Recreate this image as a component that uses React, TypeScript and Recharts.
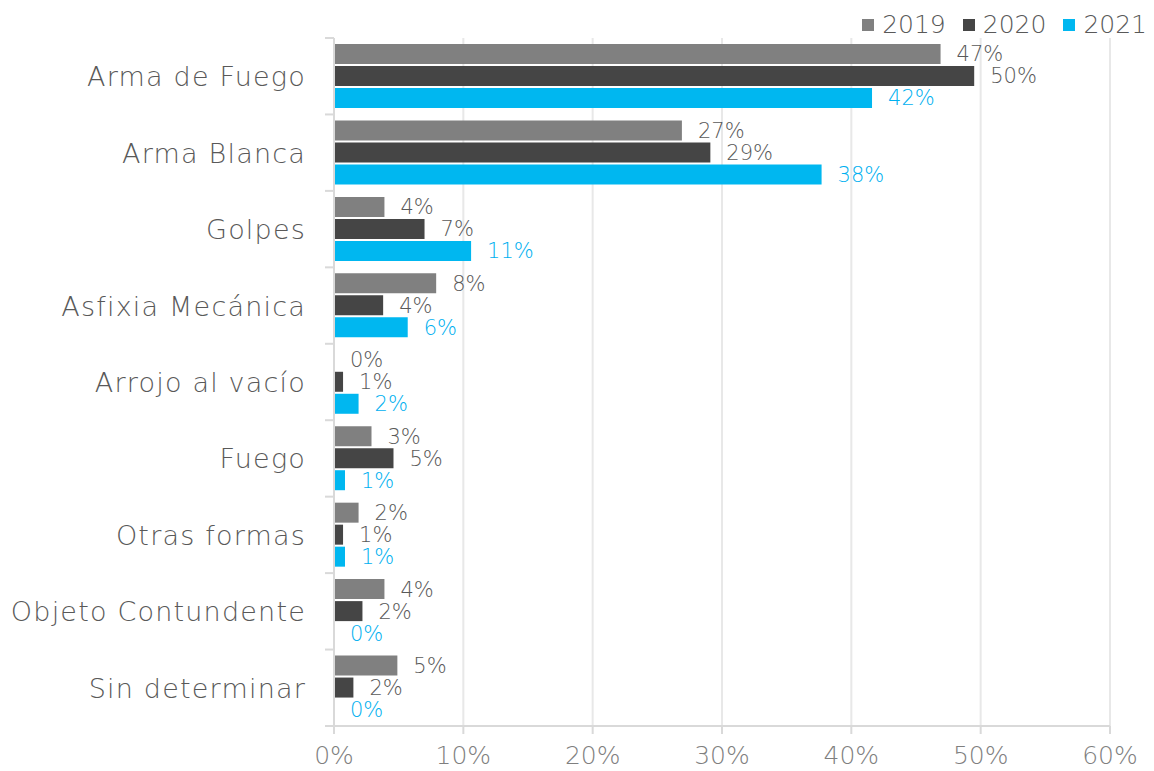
import { BarChart, Bar, XAxis, YAxis, CartesianGrid, LabelList } from "recharts";

const categories = [
  "Arma de Fuego",
  "Arma Blanca",
  "Golpes",
  "Asfixia Mecánica",
  "Arrojo al vacío",
  "Fuego",
  "Otras formas",
  "Objeto Contundente",
  "Sin determinar",
];

const y2019 = [46.9, 26.9, 3.9, 7.9, 0, 2.9, 1.9, 3.9, 4.9];
const y2020 = [49.5, 29.1, 7.0, 3.8, 0.7, 4.6, 0.7, 2.2, 1.5];
const y2021 = [41.6, 37.7, 10.6, 5.7, 1.9, 0.85, 0.85, 0, 0];

const xTicks = [0, 10, 20, 30, 40, 50, 60];

const series = [
  { key: "v2019", name: "2019", color: "#808080", labelColor: "#595959" },
  { key: "v2020", name: "2020", color: "#454545", labelColor: "#595959" },
  { key: "v2021", name: "2021", color: "#00B7F0", labelColor: "#00B0F0" },
];

const data = categories.map((c, i) => ({
  name: c,
  v2019: y2019[i],
  v2020: y2020[i],
  v2021: y2021[i],
}));

const FONT = "'DejaVu Sans', sans-serif";
const AXIS_X = 334;
const TOP = 38;
const BOTTOM = 726;
const band = (BOTTOM - TOP) / categories.length;

function CategoryTick(props: any) {
  const { x, y, payload, index } = props;
  return (
    <g>
      <line x1={AXIS_X - 9} x2={AXIS_X} y1={y - band / 2} y2={y - band / 2} stroke="#d9d9d9" strokeWidth={2} />
      {index === categories.length - 1 && (
        <line x1={AXIS_X - 9} x2={AXIS_X} y1={y + band / 2} y2={y + band / 2} stroke="#d9d9d9" strokeWidth={2} />
      )}
      <text
        x={x}
        y={y}
        dy={10}
        textAnchor="end"
        fill="#595959"
        fontSize={27}
        letterSpacing={1.2}
        fontFamily={FONT}
        fontWeight={200}
      >
        {payload.value}
      </text>
    </g>
  );
}

export default function App() {
  return (
    <div style={{ position: "absolute", left: 0, top: 0, width: 1154, height: 771, background: "#fff" }}>
      <div
        style={{
          position: "absolute",
          right: 7,
          top: 11,
          display: "flex",
          alignItems: "center",
          fontFamily: FONT,
          fontWeight: 200,
          fontSize: 25,
          lineHeight: "28px",
          color: "#595959",
          zIndex: 2,
        }}
      >
        {series.map((s) => (
          <span key={s.key} style={{ display: "flex", alignItems: "center", marginLeft: 17 }}>
            <span style={{ width: 12, height: 12, background: s.color, display: "inline-block", marginRight: 8 }} />
            {s.name}
          </span>
        ))}
      </div>
      <BarChart
        width={1154}
        height={771}
        data={data}
        layout="vertical"
        margin={{ top: TOP, right: 44, bottom: 0, left: 0 }}
        barSize={20}
        barGap={2}
      >
        <CartesianGrid horizontal={false} stroke="#e8e8e8" strokeWidth={2} />
        <XAxis
          type="number"
          domain={[0, 60]}
          ticks={xTicks}
          tickFormatter={(v: number) => `${v}%`}
          axisLine={{ stroke: "#d9d9d9", strokeWidth: 2 }}
          tickLine={{ stroke: "#d9d9d9", strokeWidth: 2 }}
          tickSize={8}
          tickMargin={12}
          tick={{ fill: "#7f7f7f", fontSize: 25, fontFamily: FONT, fontWeight: 200 }}
          height={771 - BOTTOM}
        />
        <YAxis
          type="category"
          dataKey="name"
          width={AXIS_X}
          axisLine={{ stroke: "#d9d9d9", strokeWidth: 2 }}
          tickLine={false}
          tickSize={9}
          tickMargin={19}
          tick={<CategoryTick />}
          interval={0}
        />
        {series.map((s) => (
          <Bar
            key={s.key}
            dataKey={s.key}
            name={s.name}
            fill={s.color}
            minPointSize={0.01}
            isAnimationActive={false}
          >
            <LabelList
              dataKey={s.key}
              position="right"
              offset={16}
              formatter={(v: any) => `${Math.round(Number(v))}%`}
              style={{ fill: s.labelColor, fontSize: 21, fontFamily: FONT, fontWeight: 200 }}
            />
          </Bar>
        ))}
      </BarChart>
    </div>
  );
}
